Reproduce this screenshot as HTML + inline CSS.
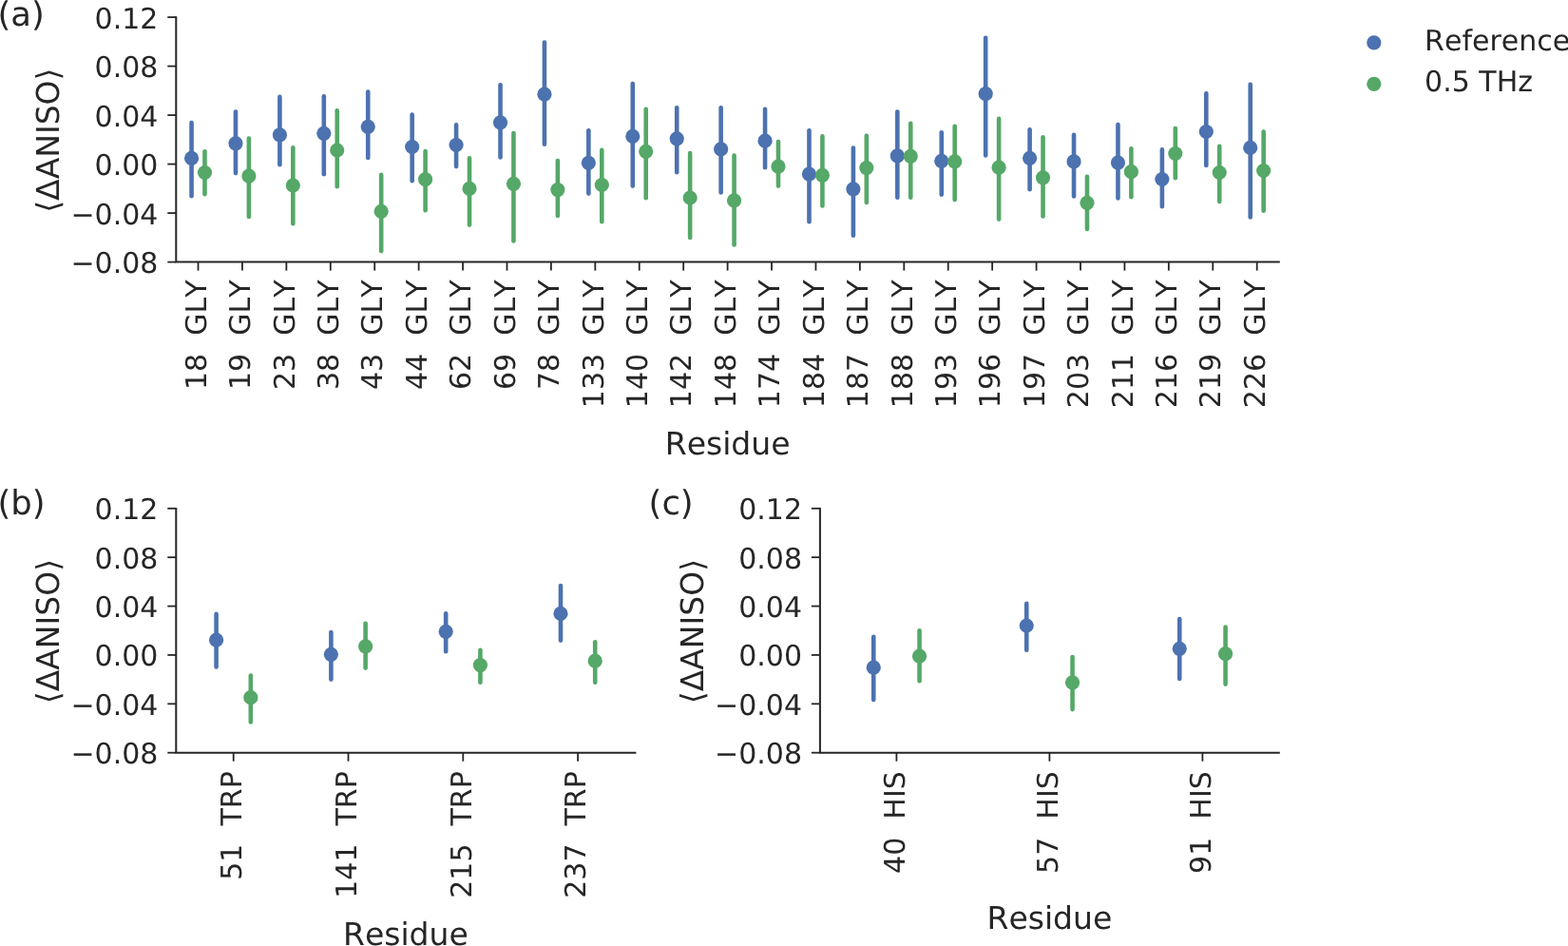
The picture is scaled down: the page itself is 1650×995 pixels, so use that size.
<!DOCTYPE html>
<html><head><meta charset="utf-8"><title>Figure</title>
<style>
html,body{margin:0;padding:0;background:#fff;}
body{width:1650px;height:995px;overflow:hidden;}
svg{display:block;}
text{font-family:'DejaVu Sans', 'Liberation Sans', sans-serif;fill:#262626;white-space:pre;font-kerning:none;text-rendering:geometricPrecision;font-feature-settings:"kern" 0;}
.tk{font-size:30px;}
.lb{font-size:33px;}
.pl{font-size:35.4px;}
</style></head>
<body>
<svg width="1650" height="995" viewBox="0 0 1650 995">
<rect width="1650" height="995" fill="#fff"/>
<path d="M185.30 17.20V275.60H1346.80" fill="none" stroke="#262626" stroke-width="2.0" stroke-linecap="butt"/>
<line x1="176.30" y1="18.10" x2="185.30" y2="18.10" stroke="#262626" stroke-width="1.8"/>
<text x="166.40" y="29.60" text-anchor="end" class="tk">0.12</text>
<line x1="176.30" y1="69.60" x2="185.30" y2="69.60" stroke="#262626" stroke-width="1.8"/>
<text x="166.40" y="81.10" text-anchor="end" class="tk">0.08</text>
<line x1="176.30" y1="121.10" x2="185.30" y2="121.10" stroke="#262626" stroke-width="1.8"/>
<text x="166.40" y="132.60" text-anchor="end" class="tk">0.04</text>
<line x1="176.30" y1="172.60" x2="185.30" y2="172.60" stroke="#262626" stroke-width="1.8"/>
<text x="166.40" y="184.10" text-anchor="end" class="tk">0.00</text>
<line x1="176.30" y1="224.10" x2="185.30" y2="224.10" stroke="#262626" stroke-width="1.8"/>
<text x="166.40" y="235.60" text-anchor="end" class="tk">−0.04</text>
<line x1="176.30" y1="275.60" x2="185.30" y2="275.60" stroke="#262626" stroke-width="1.8"/>
<text x="166.40" y="287.10" text-anchor="end" class="tk">−0.08</text>
<line x1="208.51" y1="275.60" x2="208.51" y2="284.60" stroke="#262626" stroke-width="1.8"/>
<text transform="translate(216.71 294.50) rotate(-90)" text-anchor="end" class="tk">18  GLY</text>
<line x1="254.94" y1="275.60" x2="254.94" y2="284.60" stroke="#262626" stroke-width="1.8"/>
<text transform="translate(263.14 294.50) rotate(-90)" text-anchor="end" class="tk">19  GLY</text>
<line x1="301.36" y1="275.60" x2="301.36" y2="284.60" stroke="#262626" stroke-width="1.8"/>
<text transform="translate(309.56 294.50) rotate(-90)" text-anchor="end" class="tk">23  GLY</text>
<line x1="347.78" y1="275.60" x2="347.78" y2="284.60" stroke="#262626" stroke-width="1.8"/>
<text transform="translate(355.98 294.50) rotate(-90)" text-anchor="end" class="tk">38  GLY</text>
<line x1="394.21" y1="275.60" x2="394.21" y2="284.60" stroke="#262626" stroke-width="1.8"/>
<text transform="translate(402.41 294.50) rotate(-90)" text-anchor="end" class="tk">43  GLY</text>
<line x1="440.63" y1="275.60" x2="440.63" y2="284.60" stroke="#262626" stroke-width="1.8"/>
<text transform="translate(448.83 294.50) rotate(-90)" text-anchor="end" class="tk">44  GLY</text>
<line x1="487.06" y1="275.60" x2="487.06" y2="284.60" stroke="#262626" stroke-width="1.8"/>
<text transform="translate(495.26 294.50) rotate(-90)" text-anchor="end" class="tk">62  GLY</text>
<line x1="533.48" y1="275.60" x2="533.48" y2="284.60" stroke="#262626" stroke-width="1.8"/>
<text transform="translate(541.68 294.50) rotate(-90)" text-anchor="end" class="tk">69  GLY</text>
<line x1="579.90" y1="275.60" x2="579.90" y2="284.60" stroke="#262626" stroke-width="1.8"/>
<text transform="translate(588.10 294.50) rotate(-90)" text-anchor="end" class="tk">78  GLY</text>
<line x1="626.33" y1="275.60" x2="626.33" y2="284.60" stroke="#262626" stroke-width="1.8"/>
<text transform="translate(634.53 294.50) rotate(-90)" text-anchor="end" class="tk">133  GLY</text>
<line x1="672.75" y1="275.60" x2="672.75" y2="284.60" stroke="#262626" stroke-width="1.8"/>
<text transform="translate(680.95 294.50) rotate(-90)" text-anchor="end" class="tk">140  GLY</text>
<line x1="719.18" y1="275.60" x2="719.18" y2="284.60" stroke="#262626" stroke-width="1.8"/>
<text transform="translate(727.38 294.50) rotate(-90)" text-anchor="end" class="tk">142  GLY</text>
<line x1="765.60" y1="275.60" x2="765.60" y2="284.60" stroke="#262626" stroke-width="1.8"/>
<text transform="translate(773.80 294.50) rotate(-90)" text-anchor="end" class="tk">148  GLY</text>
<line x1="812.02" y1="275.60" x2="812.02" y2="284.60" stroke="#262626" stroke-width="1.8"/>
<text transform="translate(820.22 294.50) rotate(-90)" text-anchor="end" class="tk">174  GLY</text>
<line x1="858.45" y1="275.60" x2="858.45" y2="284.60" stroke="#262626" stroke-width="1.8"/>
<text transform="translate(866.65 294.50) rotate(-90)" text-anchor="end" class="tk">184  GLY</text>
<line x1="904.87" y1="275.60" x2="904.87" y2="284.60" stroke="#262626" stroke-width="1.8"/>
<text transform="translate(913.07 294.50) rotate(-90)" text-anchor="end" class="tk">187  GLY</text>
<line x1="951.30" y1="275.60" x2="951.30" y2="284.60" stroke="#262626" stroke-width="1.8"/>
<text transform="translate(959.50 294.50) rotate(-90)" text-anchor="end" class="tk">188  GLY</text>
<line x1="997.72" y1="275.60" x2="997.72" y2="284.60" stroke="#262626" stroke-width="1.8"/>
<text transform="translate(1005.92 294.50) rotate(-90)" text-anchor="end" class="tk">193  GLY</text>
<line x1="1044.14" y1="275.60" x2="1044.14" y2="284.60" stroke="#262626" stroke-width="1.8"/>
<text transform="translate(1052.34 294.50) rotate(-90)" text-anchor="end" class="tk">196  GLY</text>
<line x1="1090.57" y1="275.60" x2="1090.57" y2="284.60" stroke="#262626" stroke-width="1.8"/>
<text transform="translate(1098.77 294.50) rotate(-90)" text-anchor="end" class="tk">197  GLY</text>
<line x1="1136.99" y1="275.60" x2="1136.99" y2="284.60" stroke="#262626" stroke-width="1.8"/>
<text transform="translate(1145.19 294.50) rotate(-90)" text-anchor="end" class="tk">203  GLY</text>
<line x1="1183.42" y1="275.60" x2="1183.42" y2="284.60" stroke="#262626" stroke-width="1.8"/>
<text transform="translate(1191.62 294.50) rotate(-90)" text-anchor="end" class="tk">211  GLY</text>
<line x1="1229.84" y1="275.60" x2="1229.84" y2="284.60" stroke="#262626" stroke-width="1.8"/>
<text transform="translate(1238.04 294.50) rotate(-90)" text-anchor="end" class="tk">216  GLY</text>
<line x1="1276.26" y1="275.60" x2="1276.26" y2="284.60" stroke="#262626" stroke-width="1.8"/>
<text transform="translate(1284.46 294.50) rotate(-90)" text-anchor="end" class="tk">219  GLY</text>
<line x1="1322.69" y1="275.60" x2="1322.69" y2="284.60" stroke="#262626" stroke-width="1.8"/>
<text transform="translate(1330.89 294.50) rotate(-90)" text-anchor="end" class="tk">226  GLY</text>
<line x1="201.55" y1="129.00" x2="201.55" y2="206.20" stroke="#4c72b0" stroke-width="4.6" stroke-linecap="round"/>
<circle cx="201.55" cy="166.40" r="7.6" fill="#4c72b0"/>
<line x1="215.48" y1="159.20" x2="215.48" y2="204.20" stroke="#55a868" stroke-width="4.6" stroke-linecap="round"/>
<circle cx="215.48" cy="181.50" r="7.6" fill="#55a868"/>
<line x1="247.97" y1="117.60" x2="247.97" y2="182.10" stroke="#4c72b0" stroke-width="4.6" stroke-linecap="round"/>
<circle cx="247.97" cy="150.80" r="7.6" fill="#4c72b0"/>
<line x1="261.90" y1="145.50" x2="261.90" y2="227.90" stroke="#55a868" stroke-width="4.6" stroke-linecap="round"/>
<circle cx="261.90" cy="185.10" r="7.6" fill="#55a868"/>
<line x1="294.40" y1="101.90" x2="294.40" y2="173.30" stroke="#4c72b0" stroke-width="4.6" stroke-linecap="round"/>
<circle cx="294.40" cy="141.90" r="7.6" fill="#4c72b0"/>
<line x1="308.32" y1="155.20" x2="308.32" y2="235.20" stroke="#55a868" stroke-width="4.6" stroke-linecap="round"/>
<circle cx="308.32" cy="195.00" r="7.6" fill="#55a868"/>
<line x1="340.82" y1="101.30" x2="340.82" y2="183.30" stroke="#4c72b0" stroke-width="4.6" stroke-linecap="round"/>
<circle cx="340.82" cy="140.30" r="7.6" fill="#4c72b0"/>
<line x1="354.75" y1="116.20" x2="354.75" y2="196.20" stroke="#55a868" stroke-width="4.6" stroke-linecap="round"/>
<circle cx="354.75" cy="158.00" r="7.6" fill="#55a868"/>
<line x1="387.24" y1="96.50" x2="387.24" y2="166.00" stroke="#4c72b0" stroke-width="4.6" stroke-linecap="round"/>
<circle cx="387.24" cy="133.30" r="7.6" fill="#4c72b0"/>
<line x1="401.17" y1="183.90" x2="401.17" y2="264.10" stroke="#55a868" stroke-width="4.6" stroke-linecap="round"/>
<circle cx="401.17" cy="222.30" r="7.6" fill="#55a868"/>
<line x1="433.67" y1="120.50" x2="433.67" y2="190.30" stroke="#4c72b0" stroke-width="4.6" stroke-linecap="round"/>
<circle cx="433.67" cy="154.50" r="7.6" fill="#4c72b0"/>
<line x1="447.60" y1="159.10" x2="447.60" y2="221.20" stroke="#55a868" stroke-width="4.6" stroke-linecap="round"/>
<circle cx="447.60" cy="188.70" r="7.6" fill="#55a868"/>
<line x1="480.09" y1="131.40" x2="480.09" y2="175.10" stroke="#4c72b0" stroke-width="4.6" stroke-linecap="round"/>
<circle cx="480.09" cy="152.50" r="7.6" fill="#4c72b0"/>
<line x1="494.02" y1="166.40" x2="494.02" y2="236.60" stroke="#55a868" stroke-width="4.6" stroke-linecap="round"/>
<circle cx="494.02" cy="198.40" r="7.6" fill="#55a868"/>
<line x1="526.52" y1="89.20" x2="526.52" y2="165.50" stroke="#4c72b0" stroke-width="4.6" stroke-linecap="round"/>
<circle cx="526.52" cy="128.90" r="7.6" fill="#4c72b0"/>
<line x1="540.44" y1="140.10" x2="540.44" y2="253.50" stroke="#55a868" stroke-width="4.6" stroke-linecap="round"/>
<circle cx="540.44" cy="193.30" r="7.6" fill="#55a868"/>
<line x1="572.94" y1="44.50" x2="572.94" y2="151.70" stroke="#4c72b0" stroke-width="4.6" stroke-linecap="round"/>
<circle cx="572.94" cy="99.20" r="7.6" fill="#4c72b0"/>
<line x1="586.87" y1="169.00" x2="586.87" y2="227.00" stroke="#55a868" stroke-width="4.6" stroke-linecap="round"/>
<circle cx="586.87" cy="199.60" r="7.6" fill="#55a868"/>
<line x1="619.36" y1="137.20" x2="619.36" y2="203.60" stroke="#4c72b0" stroke-width="4.6" stroke-linecap="round"/>
<circle cx="619.36" cy="171.30" r="7.6" fill="#4c72b0"/>
<line x1="633.29" y1="157.90" x2="633.29" y2="233.20" stroke="#55a868" stroke-width="4.6" stroke-linecap="round"/>
<circle cx="633.29" cy="194.50" r="7.6" fill="#55a868"/>
<line x1="665.79" y1="88.00" x2="665.79" y2="195.60" stroke="#4c72b0" stroke-width="4.6" stroke-linecap="round"/>
<circle cx="665.79" cy="143.40" r="7.6" fill="#4c72b0"/>
<line x1="679.72" y1="114.70" x2="679.72" y2="208.20" stroke="#55a868" stroke-width="4.6" stroke-linecap="round"/>
<circle cx="679.72" cy="159.30" r="7.6" fill="#55a868"/>
<line x1="712.21" y1="113.30" x2="712.21" y2="181.20" stroke="#4c72b0" stroke-width="4.6" stroke-linecap="round"/>
<circle cx="712.21" cy="145.80" r="7.6" fill="#4c72b0"/>
<line x1="726.14" y1="161.00" x2="726.14" y2="249.90" stroke="#55a868" stroke-width="4.6" stroke-linecap="round"/>
<circle cx="726.14" cy="208.00" r="7.6" fill="#55a868"/>
<line x1="758.64" y1="113.30" x2="758.64" y2="202.40" stroke="#4c72b0" stroke-width="4.6" stroke-linecap="round"/>
<circle cx="758.64" cy="156.90" r="7.6" fill="#4c72b0"/>
<line x1="772.56" y1="163.50" x2="772.56" y2="257.40" stroke="#55a868" stroke-width="4.6" stroke-linecap="round"/>
<circle cx="772.56" cy="210.90" r="7.6" fill="#55a868"/>
<line x1="805.06" y1="114.70" x2="805.06" y2="176.30" stroke="#4c72b0" stroke-width="4.6" stroke-linecap="round"/>
<circle cx="805.06" cy="148.20" r="7.6" fill="#4c72b0"/>
<line x1="818.99" y1="149.00" x2="818.99" y2="195.60" stroke="#55a868" stroke-width="4.6" stroke-linecap="round"/>
<circle cx="818.99" cy="175.20" r="7.6" fill="#55a868"/>
<line x1="851.48" y1="137.20" x2="851.48" y2="233.20" stroke="#4c72b0" stroke-width="4.6" stroke-linecap="round"/>
<circle cx="851.48" cy="183.20" r="7.6" fill="#4c72b0"/>
<line x1="865.41" y1="143.20" x2="865.41" y2="216.40" stroke="#55a868" stroke-width="4.6" stroke-linecap="round"/>
<circle cx="865.41" cy="184.40" r="7.6" fill="#55a868"/>
<line x1="897.91" y1="155.50" x2="897.91" y2="247.70" stroke="#4c72b0" stroke-width="4.6" stroke-linecap="round"/>
<circle cx="897.91" cy="198.80" r="7.6" fill="#4c72b0"/>
<line x1="911.84" y1="142.70" x2="911.84" y2="213.00" stroke="#55a868" stroke-width="4.6" stroke-linecap="round"/>
<circle cx="911.84" cy="176.60" r="7.6" fill="#55a868"/>
<line x1="944.33" y1="117.60" x2="944.33" y2="207.70" stroke="#4c72b0" stroke-width="4.6" stroke-linecap="round"/>
<circle cx="944.33" cy="163.90" r="7.6" fill="#4c72b0"/>
<line x1="958.26" y1="129.70" x2="958.26" y2="207.70" stroke="#55a868" stroke-width="4.6" stroke-linecap="round"/>
<circle cx="958.26" cy="164.30" r="7.6" fill="#55a868"/>
<line x1="990.76" y1="139.30" x2="990.76" y2="204.80" stroke="#4c72b0" stroke-width="4.6" stroke-linecap="round"/>
<circle cx="990.76" cy="169.40" r="7.6" fill="#4c72b0"/>
<line x1="1004.68" y1="132.80" x2="1004.68" y2="210.10" stroke="#55a868" stroke-width="4.6" stroke-linecap="round"/>
<circle cx="1004.68" cy="169.90" r="7.6" fill="#55a868"/>
<line x1="1037.18" y1="39.70" x2="1037.18" y2="163.50" stroke="#4c72b0" stroke-width="4.6" stroke-linecap="round"/>
<circle cx="1037.18" cy="98.70" r="7.6" fill="#4c72b0"/>
<line x1="1051.11" y1="124.90" x2="1051.11" y2="230.60" stroke="#55a868" stroke-width="4.6" stroke-linecap="round"/>
<circle cx="1051.11" cy="176.20" r="7.6" fill="#55a868"/>
<line x1="1083.60" y1="136.20" x2="1083.60" y2="199.20" stroke="#4c72b0" stroke-width="4.6" stroke-linecap="round"/>
<circle cx="1083.60" cy="166.30" r="7.6" fill="#4c72b0"/>
<line x1="1097.53" y1="144.20" x2="1097.53" y2="227.50" stroke="#55a868" stroke-width="4.6" stroke-linecap="round"/>
<circle cx="1097.53" cy="186.80" r="7.6" fill="#55a868"/>
<line x1="1130.03" y1="141.80" x2="1130.03" y2="206.50" stroke="#4c72b0" stroke-width="4.6" stroke-linecap="round"/>
<circle cx="1130.03" cy="169.90" r="7.6" fill="#4c72b0"/>
<line x1="1143.96" y1="185.90" x2="1143.96" y2="241.00" stroke="#55a868" stroke-width="4.6" stroke-linecap="round"/>
<circle cx="1143.96" cy="213.30" r="7.6" fill="#55a868"/>
<line x1="1176.45" y1="131.10" x2="1176.45" y2="208.40" stroke="#4c72b0" stroke-width="4.6" stroke-linecap="round"/>
<circle cx="1176.45" cy="171.10" r="7.6" fill="#4c72b0"/>
<line x1="1190.38" y1="156.20" x2="1190.38" y2="207.20" stroke="#55a868" stroke-width="4.6" stroke-linecap="round"/>
<circle cx="1190.38" cy="180.70" r="7.6" fill="#55a868"/>
<line x1="1222.88" y1="157.40" x2="1222.88" y2="217.30" stroke="#4c72b0" stroke-width="4.6" stroke-linecap="round"/>
<circle cx="1222.88" cy="188.50" r="7.6" fill="#4c72b0"/>
<line x1="1236.80" y1="135.00" x2="1236.80" y2="187.20" stroke="#55a868" stroke-width="4.6" stroke-linecap="round"/>
<circle cx="1236.80" cy="161.50" r="7.6" fill="#55a868"/>
<line x1="1269.30" y1="98.30" x2="1269.30" y2="173.90" stroke="#4c72b0" stroke-width="4.6" stroke-linecap="round"/>
<circle cx="1269.30" cy="138.50" r="7.6" fill="#4c72b0"/>
<line x1="1283.23" y1="153.80" x2="1283.23" y2="212.00" stroke="#55a868" stroke-width="4.6" stroke-linecap="round"/>
<circle cx="1283.23" cy="181.50" r="7.6" fill="#55a868"/>
<line x1="1315.72" y1="88.70" x2="1315.72" y2="228.40" stroke="#4c72b0" stroke-width="4.6" stroke-linecap="round"/>
<circle cx="1315.72" cy="155.40" r="7.6" fill="#4c72b0"/>
<line x1="1329.65" y1="138.60" x2="1329.65" y2="221.70" stroke="#55a868" stroke-width="4.6" stroke-linecap="round"/>
<circle cx="1329.65" cy="179.50" r="7.6" fill="#55a868"/>
<text x="765.60" y="478.20" text-anchor="middle" class="lb">Residue</text>
<text transform="translate(62.00 147.65) rotate(-90)" text-anchor="middle" class="lb">⟨ΔANISO⟩</text>
<path d="M185.30 533.90V791.70H669.40" fill="none" stroke="#262626" stroke-width="2.0" stroke-linecap="butt"/>
<line x1="176.30" y1="534.80" x2="185.30" y2="534.80" stroke="#262626" stroke-width="1.8"/>
<text x="166.40" y="546.30" text-anchor="end" class="tk">0.12</text>
<line x1="176.30" y1="586.18" x2="185.30" y2="586.18" stroke="#262626" stroke-width="1.8"/>
<text x="166.40" y="597.68" text-anchor="end" class="tk">0.08</text>
<line x1="176.30" y1="637.56" x2="185.30" y2="637.56" stroke="#262626" stroke-width="1.8"/>
<text x="166.40" y="649.06" text-anchor="end" class="tk">0.04</text>
<line x1="176.30" y1="688.94" x2="185.30" y2="688.94" stroke="#262626" stroke-width="1.8"/>
<text x="166.40" y="700.44" text-anchor="end" class="tk">0.00</text>
<line x1="176.30" y1="740.32" x2="185.30" y2="740.32" stroke="#262626" stroke-width="1.8"/>
<text x="166.40" y="751.82" text-anchor="end" class="tk">−0.04</text>
<line x1="176.30" y1="791.70" x2="185.30" y2="791.70" stroke="#262626" stroke-width="1.8"/>
<text x="166.40" y="803.20" text-anchor="end" class="tk">−0.08</text>
<line x1="245.70" y1="791.70" x2="245.70" y2="800.70" stroke="#262626" stroke-width="1.8"/>
<text transform="translate(253.90 811.20) rotate(-90)" text-anchor="end" class="tk">51  TRP</text>
<line x1="366.50" y1="791.70" x2="366.50" y2="800.70" stroke="#262626" stroke-width="1.8"/>
<text transform="translate(374.70 811.20) rotate(-90)" text-anchor="end" class="tk">141  TRP</text>
<line x1="487.30" y1="791.70" x2="487.30" y2="800.70" stroke="#262626" stroke-width="1.8"/>
<text transform="translate(495.50 811.20) rotate(-90)" text-anchor="end" class="tk">215  TRP</text>
<line x1="608.10" y1="791.70" x2="608.10" y2="800.70" stroke="#262626" stroke-width="1.8"/>
<text transform="translate(616.30 811.20) rotate(-90)" text-anchor="end" class="tk">237  TRP</text>
<line x1="227.58" y1="645.90" x2="227.58" y2="701.40" stroke="#4c72b0" stroke-width="4.6" stroke-linecap="round"/>
<circle cx="227.58" cy="673.20" r="7.6" fill="#4c72b0"/>
<line x1="263.82" y1="710.50" x2="263.82" y2="759.40" stroke="#55a868" stroke-width="4.6" stroke-linecap="round"/>
<circle cx="263.82" cy="733.70" r="7.6" fill="#55a868"/>
<line x1="348.38" y1="665.10" x2="348.38" y2="714.60" stroke="#4c72b0" stroke-width="4.6" stroke-linecap="round"/>
<circle cx="348.38" cy="688.30" r="7.6" fill="#4c72b0"/>
<line x1="384.62" y1="655.70" x2="384.62" y2="702.60" stroke="#55a868" stroke-width="4.6" stroke-linecap="round"/>
<circle cx="384.62" cy="679.80" r="7.6" fill="#55a868"/>
<line x1="469.18" y1="645.30" x2="469.18" y2="685.30" stroke="#4c72b0" stroke-width="4.6" stroke-linecap="round"/>
<circle cx="469.18" cy="664.30" r="7.6" fill="#4c72b0"/>
<line x1="505.42" y1="683.70" x2="505.42" y2="717.70" stroke="#55a868" stroke-width="4.6" stroke-linecap="round"/>
<circle cx="505.42" cy="699.60" r="7.6" fill="#55a868"/>
<line x1="589.98" y1="616.00" x2="589.98" y2="673.60" stroke="#4c72b0" stroke-width="4.6" stroke-linecap="round"/>
<circle cx="589.98" cy="645.40" r="7.6" fill="#4c72b0"/>
<line x1="626.22" y1="675.20" x2="626.22" y2="717.70" stroke="#55a868" stroke-width="4.6" stroke-linecap="round"/>
<circle cx="626.22" cy="695.20" r="7.6" fill="#55a868"/>
<text x="426.90" y="993.90" text-anchor="middle" class="lb">Residue</text>
<text transform="translate(62.00 664.05) rotate(-90)" text-anchor="middle" class="lb">⟨ΔANISO⟩</text>
<path d="M862.90 533.90V791.70H1346.80" fill="none" stroke="#262626" stroke-width="2.0" stroke-linecap="butt"/>
<line x1="853.90" y1="534.80" x2="862.90" y2="534.80" stroke="#262626" stroke-width="1.8"/>
<text x="844.00" y="546.30" text-anchor="end" class="tk">0.12</text>
<line x1="853.90" y1="586.18" x2="862.90" y2="586.18" stroke="#262626" stroke-width="1.8"/>
<text x="844.00" y="597.68" text-anchor="end" class="tk">0.08</text>
<line x1="853.90" y1="637.56" x2="862.90" y2="637.56" stroke="#262626" stroke-width="1.8"/>
<text x="844.00" y="649.06" text-anchor="end" class="tk">0.04</text>
<line x1="853.90" y1="688.94" x2="862.90" y2="688.94" stroke="#262626" stroke-width="1.8"/>
<text x="844.00" y="700.44" text-anchor="end" class="tk">0.00</text>
<line x1="853.90" y1="740.32" x2="862.90" y2="740.32" stroke="#262626" stroke-width="1.8"/>
<text x="844.00" y="751.82" text-anchor="end" class="tk">−0.04</text>
<line x1="853.90" y1="791.70" x2="862.90" y2="791.70" stroke="#262626" stroke-width="1.8"/>
<text x="844.00" y="803.20" text-anchor="end" class="tk">−0.08</text>
<line x1="943.40" y1="791.70" x2="943.40" y2="800.70" stroke="#262626" stroke-width="1.8"/>
<text transform="translate(951.60 811.20) rotate(-90)" text-anchor="end" class="tk">40  HIS</text>
<line x1="1104.40" y1="791.70" x2="1104.40" y2="800.70" stroke="#262626" stroke-width="1.8"/>
<text transform="translate(1112.60 811.20) rotate(-90)" text-anchor="end" class="tk">57  HIS</text>
<line x1="1265.40" y1="791.70" x2="1265.40" y2="800.70" stroke="#262626" stroke-width="1.8"/>
<text transform="translate(1273.60 811.20) rotate(-90)" text-anchor="end" class="tk">91  HIS</text>
<line x1="919.25" y1="669.90" x2="919.25" y2="736.00" stroke="#4c72b0" stroke-width="4.6" stroke-linecap="round"/>
<circle cx="919.25" cy="702.20" r="7.6" fill="#4c72b0"/>
<line x1="967.55" y1="663.30" x2="967.55" y2="716.20" stroke="#55a868" stroke-width="4.6" stroke-linecap="round"/>
<circle cx="967.55" cy="690.20" r="7.6" fill="#55a868"/>
<line x1="1080.25" y1="634.90" x2="1080.25" y2="683.70" stroke="#4c72b0" stroke-width="4.6" stroke-linecap="round"/>
<circle cx="1080.25" cy="658.00" r="7.6" fill="#4c72b0"/>
<line x1="1128.55" y1="691.00" x2="1128.55" y2="746.10" stroke="#55a868" stroke-width="4.6" stroke-linecap="round"/>
<circle cx="1128.55" cy="717.90" r="7.6" fill="#55a868"/>
<line x1="1241.25" y1="651.00" x2="1241.25" y2="714.00" stroke="#4c72b0" stroke-width="4.6" stroke-linecap="round"/>
<circle cx="1241.25" cy="682.30" r="7.6" fill="#4c72b0"/>
<line x1="1289.55" y1="659.50" x2="1289.55" y2="719.60" stroke="#55a868" stroke-width="4.6" stroke-linecap="round"/>
<circle cx="1289.55" cy="687.70" r="7.6" fill="#55a868"/>
<text x="1104.40" y="977.20" text-anchor="middle" class="lb">Residue</text>
<text transform="translate(739.60 664.05) rotate(-90)" text-anchor="middle" class="lb">⟨ΔANISO⟩</text>
<text x="-2.5" y="27.3" class="pl">(a)</text>
<text x="-2.5" y="540.7" class="pl">(b)</text>
<text x="682.6" y="540.6" class="pl">(c)</text>
<circle cx="1445.8" cy="44.8" r="7.6" fill="#4c72b0"/>
<circle cx="1445.8" cy="88.3" r="7.6" fill="#55a868"/>
<text x="1499.1" y="52.5" class="tk">Reference</text>
<text x="1499.1" y="96.2" class="tk">0.5 THz</text>
</svg>
</body></html>
